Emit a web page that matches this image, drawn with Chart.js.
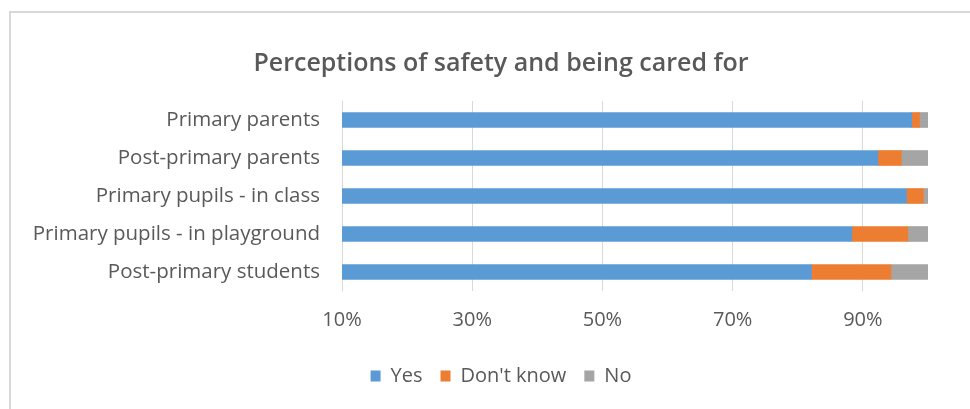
<!DOCTYPE html>
<html>
<head>
<meta charset="utf-8">
<title>Perceptions of safety and being cared for</title>
<script src="https://cdn.jsdelivr.net/npm/chart.js@4/dist/chart.umd.min.js"></script>
<style>
    html, body { margin: 0; padding: 0; background: #fff; overflow: hidden; }
    .frame { position: absolute; left: 9px; top: 11px; width: 1100px; height: 500px; border: 2px solid #d9d9d9; box-sizing: border-box; }
    .wrap { position: absolute; left: 0; top: 0; width: 970px; height: 409px; }
</style>
</head>
<body>
<div class="frame"></div>
<div class="wrap"><canvas id="safetyChart"></canvas></div>
<script>
// groups surveyed, top to bottom
const categories = ['Primary parents', 'Post-primary parents', 'Primary pupils - in class', 'Primary pupils - in playground', 'Post-primary students'];
// percentage answering each option
const yesValues = [97.5, 92.3, 96.7, 88.3, 82.1];
const dontKnowValues = [1.2, 3.6, 2.6, 8.6, 12.2];
const noValues = [1.3, 4.1, 0.7, 3.1, 5.7];
// labelled ticks on the percentage axis
const tickValues = [10, 30, 50, 70, 90];

const textColor = '#595959';
const fontFamily = "'Open Sans', sans-serif";

// title and legend are centred on the whole chart, not on the plot,
// so move their boxes in from the left edge before drawing
const centreBlocks = {
    id: 'centreBlocks',
    afterLayout: function(chart) {
        chart.titleBlock.left = 74;
        chart.legend.left = 74;
    }
};

document.addEventListener('DOMContentLoaded', function() {
    const ctx = document.getElementById('safetyChart');
    new Chart(ctx, {
        type: 'bar',
        data: {
            labels: categories,
            datasets: [
                { label: 'Yes', data: yesValues, backgroundColor: '#5B9BD5' },
                { label: "Don't know", data: dontKnowValues, backgroundColor: '#ED7D31' },
                { label: 'No', data: noValues, backgroundColor: '#A5A5A5' }
            ]
        },
        options: {
            indexAxis: 'y',
            responsive: true,
            maintainAspectRatio: false,
            animation: false,
            datasets: {
                bar: { barThickness: 15 }
            },
            layout: {
                padding: { left: 0, right: 42, top: 0, bottom: 13 }
            },
            scales: {
                x: {
                    stacked: true,
                    min: 10,
                    max: 100,
                    afterBuildTicks: function(axis) {
                        axis.ticks = tickValues.map(v => ({ value: v }));
                    },
                    afterFit: function(axis) {
                        axis.height = 57;
                    },
                    grid: { color: '#d9d9d9', drawTicks: false },
                    border: { display: false },
                    ticks: {
                        padding: 17,
                        color: textColor,
                        font: { family: fontFamily, size: 20 },
                        callback: function(value) {
                            return value + '%';
                        }
                    }
                },
                y: {
                    stacked: true,
                    afterFit: function(axis) {
                        axis.width = 342;
                    },
                    grid: { display: false, drawTicks: false },
                    border: { display: false },
                    ticks: {
                        padding: 22,
                        color: textColor,
                        font: { family: fontFamily, size: 20.5 }
                    }
                }
            },
            plugins: {
                title: {
                    display: true,
                    text: 'Perceptions of safety and being cared for',
                    color: textColor,
                    font: { family: fontFamily, size: 25, weight: '600' },
                    padding: { top: 49, bottom: 22 }
                },
                legend: {
                    position: 'bottom',
                    labels: {
                        boxWidth: 10,
                        boxHeight: 11,
                        padding: 18,
                        color: textColor,
                        font: { family: fontFamily, size: 20 }
                    }
                },
                tooltip: { enabled: false }
            }
        },
        plugins: [centreBlocks]
    });
});
</script>
</body>
</html>
